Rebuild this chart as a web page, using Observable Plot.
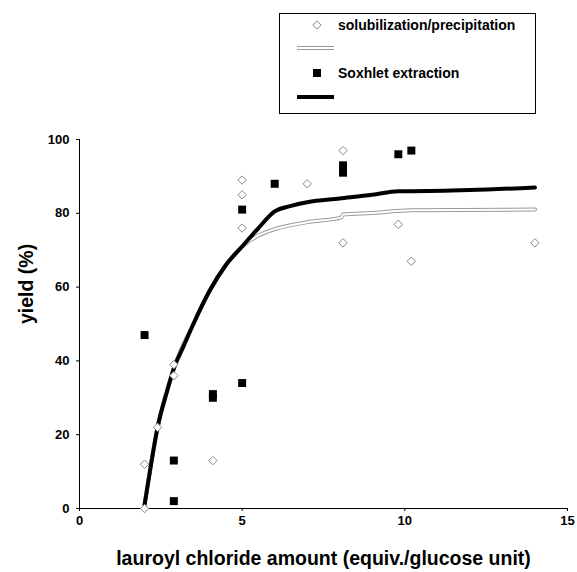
<!DOCTYPE html>
<html><head><meta charset="utf-8">
<script src="https://cdn.jsdelivr.net/npm/d3@7"></script>
<script src="https://cdn.jsdelivr.net/npm/@observablehq/plot@0.6"></script>
<style>body{margin:0;background:#fff}</style>
</head><body><div id="chart"></div>
<script>
const solX = [2, 2, 2.4, 2.9, 2.9, 4.1, 5, 5, 5, 7, 8.1, 8.1, 9.8, 10.2, 14];
const solY = [0, 12, 22, 39, 36, 13, 89, 85, 76, 88, 97, 72, 77, 67, 72];
const soxX = [2, 2.9, 2.9, 4.1, 4.1, 5, 5, 6, 8.1, 8.1, 9.8, 10.2];
const soxY = [47, 13, 2, 31, 30, 34, 81, 88, 93, 91, 96, 97];
const soxTrendX = [2, 2.2, 2.4, 2.7, 2.9, 3.2, 3.5, 4, 4.5, 5, 5.5, 6, 6.5, 7, 8, 9, 9.8, 10.2, 12, 14];
const soxTrendY = [1, 12, 22, 32, 38, 44, 50, 59, 66, 71, 76, 80.5, 82, 83, 84, 85, 86, 86, 86.3, 87];
const solTrendX = [2, 2.4, 2.9, 3.5, 4, 4.5, 5, 5.5, 6, 7, 8.05, 8.1, 9, 10.2, 14];
const solTrendY = [1, 22, 38, 50, 59, 66, 71, 74, 75.7, 77.6, 78.9, 79.7, 80.1, 80.8, 81];
const xTicks = [0, 5, 10, 15];
const yTicks = [0, 20, 40, 60, 80, 100];
const legendLabels = ["solubilization/precipitation", "", "Soxhlet extraction", ""];
const xLabel = "lauroyl chloride amount (equiv./glucose unit)";
const yLabel = "yield (%)";

const sol = solX.map((x, i) => ({x, y: solY[i]}));
const sox = soxX.map((x, i) => ({x, y: soxY[i]}));
const soxT = soxTrendX.map((x, i) => ({x, y: soxTrendY[i]}));
const solT = solTrendX.map((x, i) => ({x, y: solTrendY[i]}));

const font = "'Liberation Sans', Arial, sans-serif";
const chart = Plot.plot({
  width: 577, height: 572,
  marginLeft: 79, marginRight: 10, marginTop: 139, marginBottom: 64,
  style: {fontFamily: font, fontWeight: "bold", fontSize: "13px", background: "#fff", color: "#000"},
  x: {domain: [0, 15], ticks: xTicks},
  y: {domain: [0, 100], ticks: yTicks},
  marks: [
    Plot.axisX({ticks: xTicks, tickSize: 3, tickPadding: 4, label: null}),
    Plot.axisY({ticks: yTicks, tickSize: 3, tickPadding: 7, label: null}),
    Plot.ruleX([0], {stroke: "#000", strokeWidth: 1}),
    Plot.ruleY([0], {stroke: "#000", strokeWidth: 1}),
    Plot.line(solT, {x: "x", y: "y", stroke: "#999", strokeWidth: 4, curve: "monotone-x"}),
    Plot.line(solT, {x: "x", y: "y", stroke: "#fff", strokeWidth: 2, curve: "monotone-x"}),
    Plot.line(soxT, {x: "x", y: "y", stroke: "#000", strokeWidth: 4, curve: "monotone-x"}),
    Plot.dot(sol, {x: "x", y: "y", symbol: "diamond2", r: 3.8, fill: "#fff", stroke: "#888", strokeWidth: 1}),
    Plot.dot(sox, {x: "x", y: "y", symbol: "square", r: 4.5, fill: "#000", stroke: "none"}),
    Plot.text([xLabel], {frameAnchor: "bottom", dy: 56, fontSize: 19.5, fontWeight: "bold"}),
    Plot.text([yLabel], {frameAnchor: "left", dx: -53, rotate: -90, fontSize: 19.5, fontWeight: "bold"})
  ]
});
document.getElementById("chart").appendChild(chart);

// legend drawn into the same svg
const svg = d3.select(chart);
const g = svg.append("g").attr("font-family", font).attr("font-weight", "bold")
  .attr("font-size", 14).attr("text-anchor", "start");
g.append("rect").attr("x", 279.5).attr("y", 13.5).attr("width", 256).attr("height", 100)
  .attr("fill", "#fff").attr("stroke", "#000").attr("stroke-width", 1);
const rowY = [25, 48, 73, 97];
g.append("path").attr("d", d3.symbol(d3.symbolDiamond2, 3.8 * 3.8 * Math.PI)())
  .attr("transform", `translate(317,${rowY[0]})`).attr("fill", "#fff").attr("stroke", "#888");
g.append("line").attr("x1", 297).attr("x2", 334).attr("y1", rowY[1]).attr("y2", rowY[1]).attr("stroke", "#999").attr("stroke-width", 4);
g.append("line").attr("x1", 297).attr("x2", 334).attr("y1", rowY[1]).attr("y2", rowY[1]).attr("stroke", "#fff").attr("stroke-width", 2);
g.append("path").attr("d", d3.symbol(d3.symbolSquare, 4.5 * 4.5 * Math.PI)())
  .attr("transform", `translate(317,${rowY[2]})`).attr("fill", "#000");
g.append("line").attr("x1", 297).attr("x2", 334).attr("y1", rowY[3]).attr("y2", rowY[3]).attr("stroke", "#000").attr("stroke-width", 4);
legendLabels.forEach((t, i) => {
  if (t) g.append("text").attr("x", 338).attr("y", rowY[i]).attr("dy", "0.35em").text(t);
});
</script>
</body></html>
